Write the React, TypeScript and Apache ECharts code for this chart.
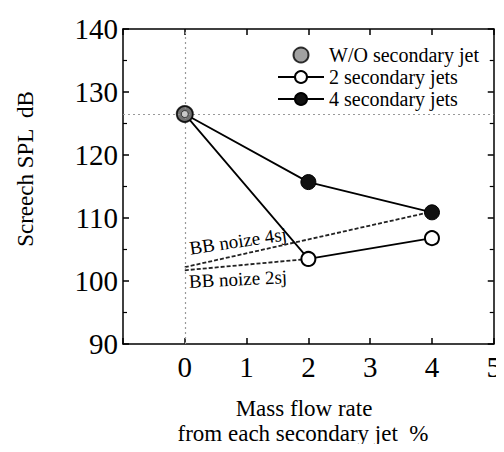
import React, { useEffect, useRef } from "react";
import * as echarts from "echarts";

const woData: number[][] = [[0, 126.5]];
const twoJets: number[][] = [[0, 126.5], [2, 103.5], [4, 106.8]];
const fourJets: number[][] = [[0, 126.5], [2, 115.7], [4, 110.9]];
const bb4: number[][] = [[0, 102.2], [4, 111.0]];
const bb2: number[][] = [[0, 101.7], [2, 103.5]];
const refY = 126.5;
const refX = 0;
const xTicks = { min: -1, max: 5, interval: 1 };
const yTicks = { min: 90, max: 140, interval: 10 };

const FONT = "'Liberation Serif', 'Times New Roman', serif";

export default function App() {
  const ref = useRef<HTMLDivElement>(null);
  useEffect(() => {
    if (!ref.current) return;
    const chart = echarts.init(ref.current, null, { renderer: "svg" });
    const axisLine = { show: true, onZero: false, lineStyle: { color: "#000", width: 1.5 } };
    const tick = { show: true, inside: true, length: 6, lineStyle: { color: "#000", width: 1.5 } };
    const baseX = {
      type: "value" as const,
      min: xTicks.min,
      max: xTicks.max,
      interval: xTicks.interval,
      axisLine,
      axisTick: tick,
      splitLine: { show: false },
    };
    const baseY = {
      type: "value" as const,
      min: yTicks.min,
      max: yTicks.max,
      interval: yTicks.interval,
      axisLine,
      axisTick: tick,
      minorTick: { show: true, splitNumber: 2, length: 4, lineStyle: { color: "#000", width: 1.2 } },
      splitLine: { show: false },
    };
    const textBase = { fontFamily: FONT, fill: "#000", textAlign: "center", textVerticalAlign: "middle" };
    chart.setOption({
      animation: false,
      backgroundColor: "#fff",
      textStyle: { fontFamily: FONT, color: "#000" },
      grid: { left: 123, right: 8, top: 29, bottom: 108 },
      legend: {
        orient: "vertical",
        left: 272,
        top: 40,
        itemWidth: 46,
        itemHeight: 15,
        itemGap: 2,
        textStyle: { fontFamily: FONT, fontSize: 20, color: "#000" },
        data: ["W/O secondary jet", "2 secondary jets", "4 secondary jets"],
      },
      xAxis: [
        {
          ...baseX,
          position: "bottom",
          axisLabel: {
            fontFamily: FONT,
            fontSize: 29,
            color: "#000",
            margin: 8,
            formatter: (v: number) => (v === xTicks.min ? "" : String(v)),
          },
        },
        { ...baseX, position: "top", axisLabel: { show: false } },
      ],
      yAxis: [
        {
          ...baseY,
          position: "left",
          axisLabel: { fontFamily: FONT, fontSize: 29, color: "#000", margin: 5 },
        },
        { ...baseY, position: "right", axisLabel: { show: false } },
      ],
      graphic: [
        {
          type: "text",
          x: 25,
          y: 169,
          rotation: Math.PI / 2,
          style: { ...textBase, text: "Screech SPL  dB", fontSize: 23 },
        },
        {
          type: "text",
          x: 304,
          y: 408,
          style: { ...textBase, text: "Mass flow rate", fontSize: 23 },
        },
        {
          type: "text",
          x: 303,
          y: 433,
          style: { ...textBase, text: "from each secondary jet  %", fontSize: 23 },
        },
        {
          type: "text",
          x: 238,
          y: 241,
          rotation: 0.15,
          style: { ...textBase, text: "BB noize 4sj", fontSize: 19 },
        },
        {
          type: "text",
          x: 238,
          y: 279,
          rotation: 0.05,
          style: { ...textBase, text: "BB noize 2sj", fontSize: 19 },
        },
      ],
      series: [
        {
          name: "ref",
          type: "line",
          data: [],
          silent: true,
          markLine: {
            symbol: "none",
            silent: true,
            label: { show: false },
            lineStyle: { color: "#999", type: [2, 3], width: 1.2 },
            data: [{ yAxis: refY }, { xAxis: refX }],
          },
        },
        {
          name: "BB 4sj",
          type: "line",
          data: bb4,
          symbol: "none",
          lineStyle: { color: "#222", width: 1.8, type: [4, 2] },
          z: 2,
        },
        {
          name: "BB 2sj",
          type: "line",
          data: bb2,
          symbol: "none",
          lineStyle: { color: "#222", width: 1.8, type: [4, 2] },
          z: 2,
        },
        {
          name: "2 secondary jets",
          type: "line",
          data: twoJets,
          symbol: "circle",
          symbolSize: 14,
          showAllSymbol: true,
          lineStyle: { color: "#000", width: 1.8 },
          itemStyle: { color: "#fff", borderColor: "#000", borderWidth: 2 },
          z: 3,
        },
        {
          name: "4 secondary jets",
          type: "line",
          data: fourJets,
          symbol: "circle",
          symbolSize: 15,
          lineStyle: { color: "#000", width: 1.8 },
          itemStyle: { color: "#111", borderColor: "#000", borderWidth: 1 },
          z: 3,
        },
        {
          name: "W/O secondary jet",
          type: "scatter",
          data: woData,
          symbol: "circle",
          symbolSize: 16,
          itemStyle: { color: "#8a8a8a", borderColor: "#000", borderWidth: 2 },
          z: 5,
        },
        {
          name: "W/O inner",
          type: "scatter",
          data: woData,
          symbol: "circle",
          symbolSize: 7,
          itemStyle: { color: "#ddd", borderColor: "#222", borderWidth: 1 },
          z: 6,
          silent: true,
        },
      ],
    });
    return () => chart.dispose();
  }, []);
  return <div ref={ref} style={{ width: 504, height: 452, margin: -8 }} />;
}
